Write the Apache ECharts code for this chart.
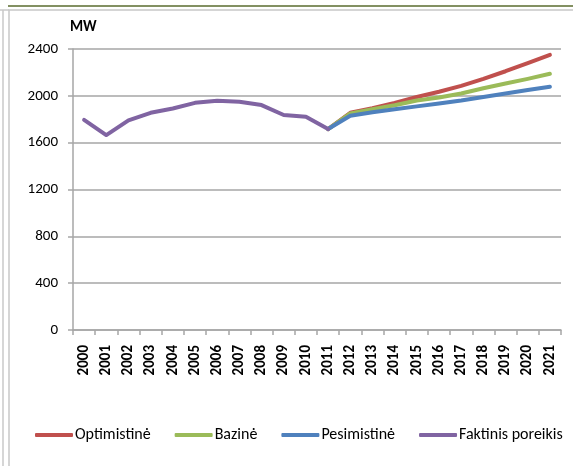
<!DOCTYPE html>
<html>
<head>
<meta charset="utf-8">
<script src="https://cdn.jsdelivr.net/npm/echarts@6/dist/echarts.min.js"></script>
<style>
  html, body { margin: 0; padding: 0; background: #fff; }
  #chart { width: 573px; height: 466px; }
</style>
</head>
<body>
<div id="chart"></div>
<script>
const years = ['2000','2001','2002','2003','2004','2005','2006','2007','2008','2009','2010',
  '2011','2012','2013','2014','2015','2016','2017','2018','2019','2020','2021']
const optimistine = [null,null,null,null,null,null,null,null,null,null,null,
  1716,1855,1895,1940,1990,2035,2085,2145,2210,2280,2350]
const bazine = [null,null,null,null,null,null,null,null,null,null,null,
  1716,1850,1885,1920,1960,1985,2020,2065,2105,2145,2188]
const pesimistine = [null,null,null,null,null,null,null,null,null,null,null,
  1716,1830,1860,1885,1910,1935,1960,1990,2020,2050,2078]
const faktinis = [1795,1665,1790,1855,1892,1940,1958,1950,1921,1836,1822,1716]

const font = "Carlito, Lato, 'Noto Sans', sans-serif"
const grey = '#a6a6a6'

const chart = echarts.init(document.getElementById('chart'))

const line = (name, color, data) => ({
  name,
  type: 'line',
  data,
  symbol: 'none',
  connectNulls: false,
  lineStyle: { color, width: 4, cap: 'round', join: 'round' },
  itemStyle: { color }
})

chart.setOption({
  animation: false,
  textStyle: { fontFamily: font },
  graphic: [
    { type: 'line', shape: { x1: 8, y1: 6, x2: 573, y2: 6 }, style: { stroke: '#5a6b2e', lineWidth: 1.5 } },
    { type: 'rect', shape: { x: 9, y: 10, width: 600, height: 500 }, style: { fill: 'none', stroke: '#c8c8c8', lineWidth: 1.5 } },
    { type: 'line', shape: { x1: 3, y1: 10, x2: 3, y2: 466 }, style: { stroke: '#c8c8c8', lineWidth: 1.5 } },
    { type: 'line', shape: { x1: 0, y1: 10, x2: 9, y2: 10 }, style: { stroke: '#c8c8c8', lineWidth: 1.5 } }
  ],
  grid: { left: 73, right: 12, top: 49, bottom: 136 },
  legend: {
    bottom: 18,
    left: 30,
    itemWidth: 38,
    itemHeight: 4,
    itemGap: 24,
    icon: 'roundRect',
    textStyle: { fontFamily: font, fontSize: 16, color: '#000', padding: [0, 0, 0, -3] },
    data: ['Optimistinė', 'Bazinė', 'Pesimistinė', 'Faktinis poreikis']
  },
  xAxis: {
    type: 'category',
    data: years,
    boundaryGap: true,
    axisLine: { lineStyle: { color: grey, width: 1.5 } },
    axisTick: { show: true, length: 5, lineStyle: { color: grey, width: 1.5 } },
    axisLabel: { rotate: 90, color: '#000', fontWeight: 'bold', fontSize: 15, fontFamily: font, margin: 15, interval: 0 }
  },
  yAxis: {
    type: 'value',
    min: 0,
    max: 2400,
    interval: 400,
    name: 'MW',
    nameGap: 14,
    nameTextStyle: { color: '#000', fontWeight: 'bold', fontSize: 15, fontFamily: font, align: 'left', padding: [0, 0, 0, -3] },
    axisLine: { show: true, lineStyle: { color: grey, width: 1.5 } },
    axisTick: { show: true, length: 5, lineStyle: { color: grey, width: 1.5 } },
    axisLabel: { color: '#000', fontSize: 15, fontFamily: font, margin: 15, formatter: v => String(v) },
    splitLine: { lineStyle: { color: grey, width: 1.5 } }
  },
  series: [
    line('Optimistinė', '#c0504d', optimistine),
    line('Bazinė', '#9bbb59', bazine),
    line('Pesimistinė', '#4f81bd', pesimistine),
    line('Faktinis poreikis', '#8064a2', faktinis)
  ]
})

window.addEventListener('resize', () => chart.resize())
</script>
</body>
</html>
